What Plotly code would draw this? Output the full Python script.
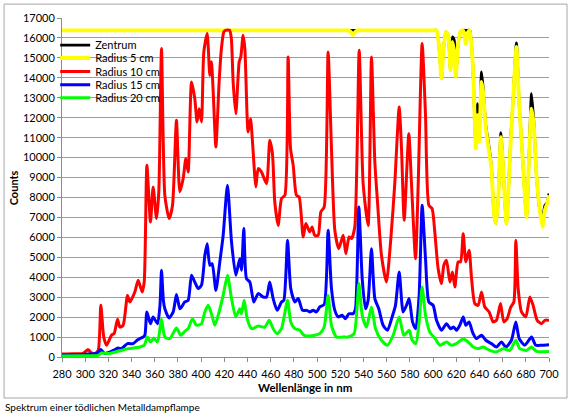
import plotly.graph_objects as go

# ---- data (wavelength nm, counts) ----
zentrum = [(280,16383),(400,16383),(529,16383),(531,16383),(598,16383),(601,16383),(603,16383),(605.3,15470),(607.3,13960),(608.7,15200),
           (611,16300),(613,16150),(615,14380),(616.7,16050),(618.2,15900),(619.6,14050),(621.6,15650),
           (623.7,16330),(626,16383),(628.3,16383),(630.3,16383),(631.7,16383),(634,14960),(636,11790),
           (636.9,10600),(638.3,12700),(639.8,11000),(641.8,14300),(643.2,13500),(645.5,11600),(648.4,10500),
           (650.4,9500),(652.4,7270),(654.1,6690),(656.1,7770),(658.5,11250),(660.5,9450),(663.3,6690),
           (665.6,9110),(667.1,11100),(669.1,12960),(671.9,15750),(674.2,12790),(677.1,10120),(680.6,7020),
           (682.9,10200),(684.9,13210),(686.9,11800),(689.2,9110),(692.1,7360),(694.4,6900),(696.4,7600),
           (698.4,7750),(700,8200)]
radius5 = [(280,16383),(400,16383),(524,16383),(526.5,16383),(528.5,16330),(530,16230),(531,16150),(532,16230),
           (533.5,16330),(535.5,16383),(538,16383),(598,16383),(601,16383),(603,16383),
           (605.3,15470),(607.3,13960),(608.7,15200),(611,16300),(613,16150),(615,14380),(616.7,15800),
           (618.2,15300),(619.6,14050),(621.6,15650),(623.7,16330),(626,16383),(628.3,15700),(630.3,16300),
           (631.7,16383),(634,14960),(636,11790),(636.9,10450),(638.3,12130),(639.8,10790),(641.8,13790),
           (643.2,13290),(645.5,11450),(648.4,10280),(650.4,9450),(652.4,7270),(654.1,6690),(656.1,7770),
           (658.5,11030),(660.5,9450),(663.3,6690),(665.6,9110),(667.1,10950),(669.1,12960),(671.9,15550),
           (674.2,12790),(677.1,10120),(680.6,7020),(682.9,10120),(684.9,12460),(686.9,11620),(689.2,9110),
           (692.1,7360),(694.4,6520),(696.4,7360),(698.4,7690),(700,8110)]
radius10 = [(280,150),(290,160),(298,180),(302.6,370),(305,220),(308.3,170),(311.2,330),(313.5,2600),
            (316,1000),(318.4,590),(322.7,1090),(325,1180),(327.9,1890),(329.9,1500),(332.7,1590),
            (336.5,3090),(338.5,2760),(342.8,3260),(345.7,3850),(349.1,3260),(350.9,3760),(353.2,9610),
            (356.3,6770),(358.6,8530),(361.5,6940),(363.5,8300),(365.8,15470),(368.7,8100),(372.4,6940),
            (375.3,7600),(378.7,11870),(381.6,8280),(384.5,8950),(386.8,9950),(388.8,9280),(391.7,13790),
            (394.5,12960),(396.5,11790),(398.3,12450),(400.3,11790),(402.3,15300),(405.2,16220),
            (407.5,14130),(408.9,14800),(410.4,13290),(412.7,10530),(415.5,13790),(417.5,15470),
            (419.5,16300),(421,16383),(424.5,16383),(426,16000),(427.6,13790),(429.9,12200),(432.8,14800),
            (434.2,15050),(436.2,16140),(437.7,15470),(440.5,11280),(442.6,11950),(444.3,10780),
            (447.2,8530),(449.2,9450),(452,9280),(456.4,8700),(459.2,10870),(461.5,10200),(463.5,7780),
            (466.4,6600),(469.3,7940),(472.2,8110),(475,15050),(477.1,10450),(479.4,9610),(482.2,8110),
            (484.5,8030),(488,6020),(490.3,6690),(493.7,6270),(495.7,6520),(498,6100),(500.9,6100),
            (503.2,7270),(506.1,7520),(509.5,15300),(512.4,10450),(515.3,6350),(518.7,5430),(522.5,6100),
            (524.8,5180),(527.6,6020),(529.7,5940),(532.5,6520),(536.3,15380),(539.7,8700),(544,6600),
            (546.9,15050),(549.8,9780),(552.1,7770),(555.5,5100),(559.8,3760),(563.6,5940),(567,8700),
            (570.8,12540),(572.8,10450),(575.1,6860),(579.1,11200),(581.4,8700),(584.9,4930),(587.2,8700),
            (590.6,15720),(593.5,12120),(596.4,7610),(599.2,7440),(601.5,6270),(604.4,4430),(607.3,3680),
            (609.3,4600),(611.6,4850),(614.5,3760),(616.7,4260),(618.8,3510),(621.6,4770),(623.7,4770),
            (626,6180),(628.3,4770),(631.1,5350),(633.1,4010),(636,2680),(638.9,2590),(641.8,3260),
            (644.6,2510),(648.4,2260),(651.8,1760),(654.7,1840),(658.2,2680),(661,1760),(663.9,1920),
            (667.1,2510),(669.7,2760),(671.4,5850),(673.4,3430),(676.3,2260),(680,2010),(683.5,3010),
            (686.3,2590),(689.8,1840),(693.5,1670),(696.4,1840),(699.3,1840),(700,1790)]
radius15 = [(280,100),(295,110),(302.6,150),(308,170),(311.2,220),(313.5,370),(316.9,170),(320,220),
            (324.1,330),(328.4,450),(331.3,420),(336.5,670),(341.4,670),(345,850),(347.1,920),(350,1000),
            (351.5,1100),(353.2,2260),(356.3,1670),(358.6,2010),(362.4,1670),(364.5,2600),(365.8,4350),
            (367.5,2800),(368.7,2420),(372.4,1960),(375.9,2260),(378.7,3130),(381.6,2420),(383.1,2510),
            (385.9,2760),(388.8,2840),(391.7,4100),(394.5,3760),(397.4,3430),(400.3,3600),(403.2,5100),
            (405.2,5680),(407.5,4600),(409.5,4680),(412.7,3340),(416.1,4770),(419,6100),(422.7,8610),
            (426.2,5770),(429.9,4100),(433.3,4930),(434.8,4350),(436.8,6440),(439.1,3930),(442,3760),
            (445.4,2760),(449.2,3180),(453.5,3010),(456.4,3010),(459.2,3760),(462.1,2930),(465.6,2340),
            (469.3,2760),(471.3,2840),(474.5,5850),(477.3,3430),(480.8,2760),(483.7,2930),(487.4,2340),
            (490.9,2340),(493.7,2260),(496.6,2340),(499.5,2260),(502.3,2510),(506.1,2630),(509.5,6350),
            (512.4,3430),(515.3,2340),(518.2,2010),(521.6,2090),(524.5,1920),(527.4,2170),(531.1,2170),
            (533.1,2420),(536,7520),(538.9,3930),(541.7,2420),(544,2840),(546.9,5430),(549.8,2930),
            (553.2,2420),(556.9,1590),(560.7,1340),(564.7,2010),(567.6,2590),(570.8,4260),(574.2,2260),
            (577.1,2590),(579.4,2930),(582.3,1760),(585.1,1420),(588,3090),(590.6,7610),(593.5,4930),
            (596.4,2760),(600.1,2590),(603,1840),(607.3,1340),(611.6,1670),(615,1420),(617.9,1500),
            (620.2,1340),(623.1,1590),(626,2010),(628.3,1590),(631.1,1760),(634,1250),(637.4,920),
            (641.8,1090),(645.5,840),(650.4,670),(654.7,500),(659,750),(662.8,500),(667.6,840),
            (671.4,1760),(674.3,920),(679.1,590),(684.9,1000),(688.6,590),(693.5,590),(700,620)]
radius20 = [(280,50),(300,60),(311.2,80),(314.1,200),(319.8,170),(328.4,280),(337.1,420),(347.1,500),
            (350.9,590),(353.7,1000),(356.3,750),(359.2,950),(362.4,750),(365.8,1890),(368.7,1000),
            (373,920),(378.7,1450),(382.5,1090),(386,1290),(388.8,1420),(392.5,1920),(396,1590),
            (400.3,1670),(403.2,2260),(406,2590),(408.9,2170),(411.8,1590),(415.5,2260),(419,3090),
            (422.7,4100),(426.2,2930),(429.9,2010),(433.3,2420),(434.8,2170),(437.1,2840),(439.7,1920),
            (443.4,1420),(449.2,1550),(454.9,1500),(458.7,1840),(462.1,1420),(465.6,1170),(469.3,1420),
            (474.5,2840),(477.3,1760),(480.8,1420),(485.1,1340),(488.6,1090),(493.7,1050),(498,1090),
            (502.3,1170),(506.1,1500),(509.5,3090),(512.4,1590),(516.7,1000),(522.5,1000),(526.8,1000),
            (531.9,1170),(536,3680),(538.9,2090),(542.6,1500),(546.9,2510),(550.4,1420),(555.5,840),
            (560.7,590),(565.6,1090),(570.8,2010),(574.8,1090),(579.4,1340),(582,840),(585.1,670),
            (588,1760),(590.6,3510),(593.5,2090),(597.2,1250),(601.5,950),(605.8,590),(611.6,750),
            (615.9,590),(620.2,670),(626,920),(630.3,750),(634.6,500),(638.9,420),(643.2,500),(649,330),
            (654.7,250),(660.5,420),(666.2,330),(671.4,840),(674.8,420),(680.6,330),(684.9,500),
            (689.2,280),(700,280)]

series_names = ["Zentrum", "Radius 5 cm", "Radius 10 cm", "Radius 15 cm", "Radius 20 cm"]
series_data = [zentrum, radius5, radius10, radius15, radius20]
series_colors = ["#000000", "#FFFF00", "#FF0000", "#0000FF", "#00FF00"]
series_widths = [2.8, 3.8, 3, 3, 3]

x_ticks = list(range(280, 701, 20))
y_ticks = list(range(0, 17001, 1000))

FONT = "Lato, 'Liberation Sans', sans-serif"

# one single-entry legend per series so the entries can sit as tightly as in the reference
legend_ids = ["legend", "legend2", "legend3", "legend4", "legend5"]
legend_y = [0.920, 0.882, 0.842, 0.803, 0.765]

fig = go.Figure()
for name, data, col, w, lg in zip(series_names, series_data, series_colors, series_widths, legend_ids):
    fig.add_trace(go.Scatter(
        x=[p[0] for p in data], y=[p[1] for p in data], name=name, mode="lines",
        line=dict(color=col, width=w, shape="spline", smoothing=0.6), legend=lg,
    ))

legend_layout = {}
for lg, ly in zip(legend_ids, legend_y):
    legend_layout[lg] = dict(x=-0.014, y=ly, xanchor="left", yanchor="middle",
                             bgcolor="rgba(0,0,0,0)", borderwidth=0,
                             font=dict(family=FONT, size=11))

fig.update_layout(
    width=575, height=415,
    margin=dict(l=62, r=26, t=18, b=58),
    paper_bgcolor="white", plot_bgcolor="white",
    font=dict(family=FONT, size=11, color="#000000"),
    showlegend=True,
    xaxis=dict(range=[280, 700], tickvals=x_ticks, ticktext=[str(v) for v in x_ticks],
               showgrid=False, zeroline=False, showline=True, linecolor="#8C8C8C",
               ticks="outside", ticklen=4, tickcolor="#8C8C8C", ticklabelstandoff=3,
               tickfont=dict(family=FONT, size=11)),
    yaxis=dict(range=[0, 17000], tickvals=y_ticks, ticktext=[str(v) for v in y_ticks],
               showgrid=True, gridcolor="#9C9C9C", gridwidth=1, zeroline=False,
               showline=True, linecolor="#8C8C8C", ticks="outside", ticklen=4, tickcolor="#8C8C8C",
               tickfont=dict(family=FONT, size=11)),
    annotations=[
        dict(text="<b>Counts</b>", x=-0.099, y=0.5, xref="paper", yref="paper", textangle=-90,
             xanchor="center", yanchor="middle", showarrow=False, font=dict(family=FONT, size=11)),
        dict(text="<b>Wellenlänge in nm</b>", x=0.499, y=-0.090, xref="paper", yref="paper",
             xanchor="center", yanchor="middle", showarrow=False, font=dict(family=FONT, size=11.5)),
        dict(text="Spektrum einer tödlichen Metalldampflampe", x=-0.121, y=-0.148, xref="paper",
             yref="paper", xanchor="left", yanchor="middle", showarrow=False,
             font=dict(family=FONT, size=10)),
    ],
    shapes=[dict(type="rect", xref="paper", yref="paper", x0=-0.119, x1=1.037, y0=-0.121, y1=1.041,
                 line=dict(color="#A6A6A6", width=1), fillcolor="rgba(0,0,0,0)", layer="below")],
    **legend_layout,
)

fig.write_html("out.html")
